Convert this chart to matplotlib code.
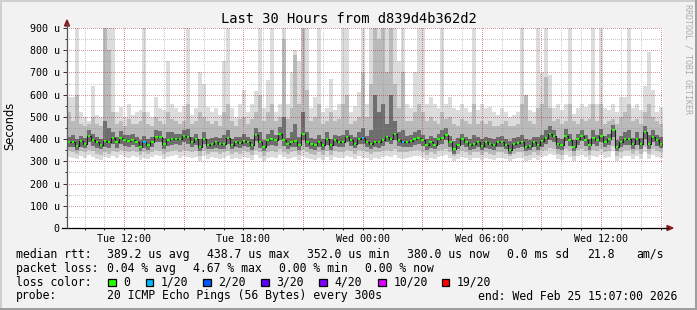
import numpy as np
import matplotlib
matplotlib.use("Agg")
import matplotlib.pyplot as plt
from matplotlib.patches import Rectangle, Polygon
from matplotlib.lines import Line2D

plt.rcParams['font.family'] = ['DejaVu Sans Mono']

W, H = 697, 310

# ---------------- data (microseconds, 12-minute bins over 30 h) ----------------
start_hour = 9 + 7 / 60.0          # Tue 09:07
bin_hours = 0.2
title = "Last 30 Hours from d839d4b362d2"

median = [387, 387, 370, 390, 380, 412, 395, 385, 375, 390,
          385, 405, 385, 405, 395, 390, 398, 387, 365, 385,
          372, 387, 410, 408, 380, 395, 402, 402, 400, 412,
          408, 387, 400, 364, 402, 375, 378, 385, 379, 379,
          405, 375, 387, 382, 392, 387, 372, 417, 385, 364,
          394, 400, 394, 424, 394, 379, 387, 390, 375, 424,
          387, 379, 372, 387, 372, 402, 372, 394, 387, 387,
          409, 394, 380, 402, 405, 387, 379, 387, 385, 394,
          410, 402, 425, 394, 387, 387, 390, 400, 405, 394,
          372, 385, 375, 400, 405, 420, 387, 355, 375, 400,
          387, 372, 379, 387, 370, 385, 379, 372, 387, 387,
          375, 352, 379, 382, 387, 364, 370, 387, 372, 390,
          405, 424, 412, 379, 372, 415, 394, 364, 400, 415,
          394, 372, 405, 394, 412, 387, 400, 439, 364, 387,
          402, 402, 379, 402, 379, 430, 379, 409, 394, 380]

loss_index = [0] * 150
for _i in (19, 74, 84):
    loss_index[_i] = 1

ping_max = [590, 590, 900, 520, 500, 480, 640, 510, 500, 900,
            900, 900, 520, 545, 500, 560, 510, 520, 530, 900,
            520, 500, 590, 540, 530, 750, 560, 540, 520, 550,
            900, 510, 540, 700, 650, 545, 520, 540, 510, 750,
            900, 540, 500, 560, 620, 520, 560, 615, 900, 540,
            665, 900, 520, 560, 900, 560, 700, 800, 750, 900,
            900, 540, 590, 900, 520, 540, 670, 530, 560, 900,
            900, 520, 550, 610, 900, 560, 900, 900, 900, 900,
            900, 900, 900, 750, 900, 560, 540, 700, 900, 900,
            560, 590, 560, 540, 900, 560, 590, 540, 530, 560,
            540, 520, 900, 530, 560, 540, 545, 520, 510, 540,
            520, 500, 510, 520, 900, 590, 530, 520, 900, 700,
            900, 690, 540, 560, 530, 560, 900, 515, 540, 560,
            545, 560, 900, 560, 900, 540, 530, 560, 520, 590,
            590, 900, 540, 560, 530, 640, 790, 620, 520, 545]

ping_min = [320, 315, 310, 325, 315, 330, 320, 310, 305, 320,
            315, 325, 315, 330, 320, 315, 325, 320, 305, 315,
            310, 320, 330, 325, 310, 320, 325, 330, 315, 325,
            320, 315, 320, 300, 325, 310, 320, 315, 310, 315,
            325, 310, 315, 310, 320, 315, 305, 330, 315, 300,
            315, 320, 315, 330, 320, 310, 315, 320, 305, 325,
            315, 310, 305, 315, 305, 320, 305, 320, 315, 315,
            325, 320, 310, 325, 315, 315, 305, 315, 310, 320,
            325, 320, 330, 315, 310, 315, 320, 325, 325, 315,
            305, 315, 310, 320, 325, 330, 315, 300, 310, 320,
            315, 305, 315, 315, 305, 315, 310, 305, 315, 315,
            310, 300, 310, 315, 315, 300, 305, 315, 305, 320,
            325, 335, 330, 310, 305, 330, 320, 300, 325, 330,
            320, 305, 325, 320, 330, 315, 320, 345, 300, 315,
            325, 325, 310, 325, 310, 340, 310, 330, 320, 315]

band_hi = [520, 480, 600, 470, 460, 470, 500, 470, 460, 900,
           800, 520, 470, 480, 460, 490, 470, 470, 480, 520,
           470, 460, 500, 480, 470, 520, 490, 480, 470, 480,
           560, 470, 480, 520, 500, 480, 470, 480, 460, 520,
           560, 480, 460, 490, 500, 470, 490, 520, 600, 480,
           520, 560, 480, 500, 850, 490, 540, 780, 560, 900,
           620, 480, 500, 560, 470, 480, 520, 480, 490, 560,
           600, 470, 480, 500, 700, 500, 650, 900, 850, 900,
           700, 900, 650, 540, 700, 480, 480, 520, 560, 520,
           480, 500, 480, 470, 520, 490, 500, 470, 460, 490,
           480, 470, 560, 470, 480, 470, 480, 460, 460, 470,
           480, 460, 460, 470, 560, 600, 480, 470, 540, 560,
           680, 540, 480, 490, 470, 480, 560, 480, 470, 490,
           480, 490, 560, 480, 560, 470, 480, 490, 470, 500,
           520, 560, 480, 490, 470, 520, 560, 500, 480, 470]

band_lo = [345, 340, 335, 345, 340, 350, 345, 335, 330, 340,
           335, 345, 340, 350, 345, 340, 345, 340, 330, 340,
           335, 340, 350, 345, 335, 340, 345, 350, 340, 350,
           345, 340, 345, 325, 345, 335, 340, 340, 335, 340,
           345, 335, 340, 335, 345, 340, 330, 350, 340, 325,
           340, 345, 340, 355, 340, 335, 340, 345, 330, 350,
           340, 335, 330, 340, 330, 345, 330, 345, 340, 340,
           350, 345, 335, 350, 345, 340, 335, 340, 340, 345,
           350, 345, 355, 340, 340, 340, 345, 350, 350, 340,
           330, 340, 335, 345, 350, 355, 340, 325, 335, 345,
           340, 330, 340, 340, 330, 340, 335, 330, 340, 340,
           335, 325, 335, 340, 340, 325, 330, 340, 330, 345,
           350, 360, 355, 335, 330, 355, 345, 325, 350, 355,
           345, 330, 350, 345, 355, 340, 345, 370, 325, 340,
           350, 350, 335, 350, 335, 365, 335, 355, 345, 340]

core_hi = [410, 420, 400, 415, 405, 440, 425, 410, 400, 480,
           450, 430, 410, 435, 420, 420, 425, 410, 395, 415,
           400, 410, 440, 435, 405, 430, 430, 425, 425, 440,
           445, 410, 425, 400, 430, 400, 405, 410, 405, 420,
           440, 400, 410, 410, 425, 410, 400, 450, 430, 395,
           425, 440, 420, 455, 500, 405, 430, 470, 410, 520,
           430, 405, 400, 420, 400, 430, 400, 420, 415, 420,
           440, 420, 410, 430, 450, 415, 440, 600, 520, 560,
           470, 600, 480, 430, 440, 415, 420, 430, 440, 420,
           400, 415, 405, 425, 440, 450, 415, 390, 405, 425,
           410, 400, 420, 410, 400, 410, 405, 400, 410, 415,
           400, 390, 405, 410, 420, 400, 395, 410, 410, 420,
           440, 460, 440, 405, 400, 445, 425, 395, 425, 440,
           420, 400, 440, 420, 445, 415, 425, 465, 395, 415,
           430, 440, 405, 430, 405, 460, 420, 440, 420, 410]

core_lo = [365, 365, 350, 365, 360, 385, 370, 360, 355, 365,
           360, 380, 360, 380, 370, 365, 375, 365, 345, 360,
           350, 365, 385, 385, 355, 370, 375, 380, 375, 385,
           380, 365, 375, 345, 380, 355, 355, 360, 355, 355,
           380, 355, 365, 360, 370, 365, 350, 390, 360, 345,
           370, 375, 370, 395, 370, 355, 365, 365, 350, 395,
           365, 355, 350, 365, 350, 375, 350, 370, 365, 365,
           385, 370, 360, 380, 380, 365, 355, 365, 360, 370,
           385, 380, 395, 370, 365, 365, 365, 375, 380, 370,
           350, 360, 355, 375, 380, 395, 365, 335, 355, 375,
           365, 350, 355, 365, 350, 360, 355, 350, 365, 365,
           355, 335, 355, 360, 365, 345, 350, 365, 350, 365,
           380, 395, 385, 355, 350, 390, 370, 345, 375, 390,
           370, 350, 380, 370, 385, 365, 375, 410, 345, 365,
           375, 375, 355, 375, 355, 400, 355, 385, 370, 360]

tick_hours = [12, 18, 24, 30, 36]
tick_labels = ["Tue 12:00", "Tue 18:00", "Wed 00:00", "Wed 06:00", "Wed 12:00"]
y_ticks = [0, 100, 200, 300, 400, 500, 600, 700, 800, 900]
y_labels = ["0", "100 u", "200 u", "300 u", "400 u", "500 u",
            "600 u", "700 u", "800 u", "900 u"]

loss_names = ["0", "1/20", "2/20", "3/20", "4/20", "10/20", "19/20"]
loss_colors = ["#26ff00", "#00b8ff", "#0059ff", "#5e00ff", "#7e00ff", "#dd00ff", "#ff0000"]

# ---------------- figure ----------------
def fx(x):
    return x / W

def fy(y):
    return 1 - y / H

PW, PH = 596, 200                   # plot area in pixels
fig = plt.figure(figsize=(W / 100, H / 100), dpi=100, facecolor='#F2F2F2')
ax = fig.add_axes([67 / W, 82 / H, PW / W, PH / H])   # pixel-aligned plot area
ax.set_facecolor('white')
n = len(median)
end_hour = start_hour + n * bin_hours
y_top = 900

edges = start_hour + bin_hours * np.arange(n + 1)

def band(lo, hi, color, z):
    lo = np.asarray(lo, float)
    hi = np.asarray(hi, float)
    ax.fill_between(edges, np.r_[lo, lo[-1]], np.r_[hi, hi[-1]], step='post',
                    color=color, lw=0, zorder=z)

band(ping_min, ping_max, '#DCDCDC', 1)
band(band_lo, band_hi, '#BABABA', 1.1)
band(core_lo, core_hi, '#6E6E6E', 1.2)

# dotted, semi-transparent grid as a pixel overlay (1 px on / 1 px off), drawn over the smoke
grid = np.zeros((PH, PW, 4))
red = (0.62, 0.10, 0.10, 0.45)
gray = (0.55, 0.55, 0.55, 0.45)
for h in range(10, 40):
    c = int(round((h - start_hour) / (end_hour - start_hour) * PW))
    if 0 <= c < PW:
        grid[0::2, c] = red if h % 3 == 0 else gray
for v in range(50, y_top + 1, 50):
    r = int(round((y_top - v) / y_top * PH))
    if 0 <= r < PH:
        grid[r, 0::2] = red if v % 100 == 0 else gray
ax.imshow(grid, extent=(start_hour, end_hour, 0, y_top), aspect='auto',
          interpolation='nearest', zorder=2)

# median
med = np.asarray(median, float)
ax.step(edges, np.r_[med, med[-1]], where='post', color='#1E1E1E', lw=0.8, zorder=3)
cols = [loss_colors[k] for k in loss_index]
ax.hlines(med, edges[:-1] + 0.2 * bin_hours, edges[1:] - 0.2 * bin_hours,
          colors=cols, lw=1.6, zorder=4)

ax.set_xlim(start_hour, end_hour)
ax.set_ylim(0, y_top)
for s in ax.spines.values():
    s.set_visible(False)

# ticks
ax.set_yticks(y_ticks)
ax.set_yticklabels(y_labels)
ax.set_yticks(list(range(50, 900, 100)), minor=True)
ax.set_xticks(tick_hours)
ax.set_xticklabels(tick_labels)
ax.set_xticks(list(range(10, 40)), minor=True)
ax.tick_params(axis='y', which='major', length=3.0, width=0.72, color='#333333',
               pad=2.4, labelsize=7.2)
ax.tick_params(axis='y', which='minor', length=1.5, width=0.72, color='#333333')
ax.tick_params(axis='x', which='major', length=1.5, width=0.72, color='#333333',
               pad=2.6, labelsize=7.2)
ax.tick_params(axis='x', which='minor', length=1.5, width=0.72, color='#333333')

# axes lines and arrows
fig.add_artist(Line2D([fx(62), fx(668)], [fy(228), fy(228)], color='black', lw=0.9))
fig.add_artist(Line2D([fx(67), fx(67)], [fy(228), fy(24)], color='#555555', lw=0.9))
arrow_c = '#8B1A1A'
fig.add_artist(Polygon([(fx(64.5), fy(26)), (fx(69.5), fy(26)), (fx(67), fy(20))],
                       closed=True, color=arrow_c, transform=fig.transFigure))
fig.add_artist(Polygon([(fx(667), fy(225.5)), (fx(667), fy(230.5)), (fx(673), fy(228))],
                       closed=True, color=arrow_c, transform=fig.transFigure))

# title and labels
fig.text(fx(348.5), fy(19.3), title, ha='center', va='center', fontsize=9.9)
fig.text(fx(10), fy(126), "Seconds", rotation=90, ha='center', va='center',
         fontsize=8.3, family=['DejaVu Sans'])
fig.text(fx(688), fy(4), "RRDTOOL / TOBI OETIKER", rotation=270, ha='center', va='top',
         fontsize=6.0, color='#ABABAB')

# legend
fs = 8.3
rows = [
    (254.3, [(16, "median rtt:"), (107.3, "389.2 us avg"), (207.3, "438.7 us max"),
             (307.3, "352.0 us min"), (407.3, "380.0 us now"), (507.3, "0.0 ms sd"),
             (587.3, "21.8"), (636, "am/s")]),
    (268.3, [(16, "packet loss:"), (107.3, "0.04 % avg"), (193.3, "4.67 % max"),
             (279.3, "0.00 % min"), (365, "0.00 % now")]),
    (296.0, [(16, "probe:"), (107.3, "20 ICMP Echo Pings (56 Bytes) every 300s"),
             (478.3, "end: Wed Feb 25 15:07:00 2026")]),
]
for y, items in rows:
    for x, s in items:
        fig.text(fx(x), fy(y), s, ha='left', va='center', fontsize=fs)

fig.text(fx(16), fy(282.3), "loss color:", ha='left', va='center', fontsize=fs)
box_x = [108.3, 145.7, 203.3, 261, 319, 378.3, 441.7]
for bx, name, col in zip(box_x, loss_names, loss_colors):
    fig.add_artist(Rectangle((fx(bx), fy(286.2)), 7.6 / W, 7.6 / H, facecolor=col,
                             edgecolor='black', lw=0.9, transform=fig.transFigure))
    fig.text(fx(bx + 15), fy(282.3), name, ha='left', va='center', fontsize=fs)

# 3D border
fig.add_artist(Rectangle((0, fy(2)), 1, 2 / H, color='#CFCFCF', transform=fig.transFigure, lw=0))
fig.add_artist(Rectangle((0, 0), 2 / W, 1, color='#CFCFCF', transform=fig.transFigure, lw=0))
fig.add_artist(Rectangle((0, 0), 1, 2 / H, color='#9E9E9E', transform=fig.transFigure, lw=0))
fig.add_artist(Rectangle((fx(695), 0), 2 / W, 1, color='#9E9E9E', transform=fig.transFigure, lw=0))

fig.savefig("out.png", dpi=100, facecolor=fig.get_facecolor())
